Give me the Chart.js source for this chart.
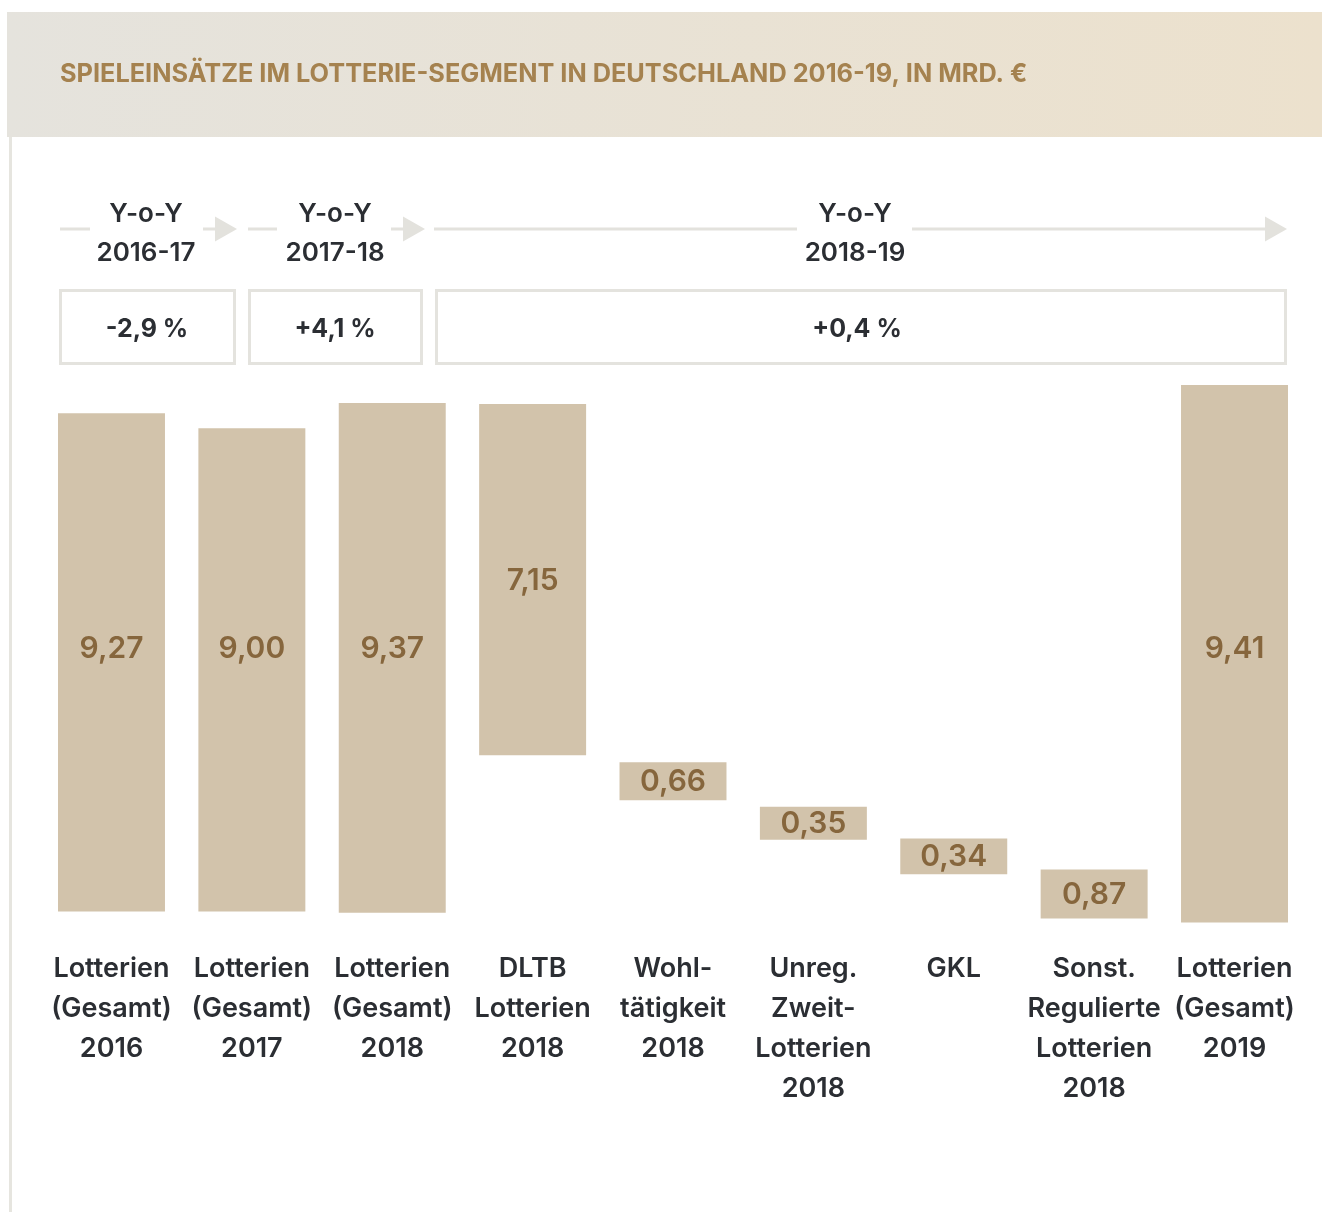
<!DOCTYPE html>
<html><head><meta charset="utf-8">
<script src="https://cdn.jsdelivr.net/npm/chart.js@4"></script>
<style>html,body{margin:0;padding:0;background:#fff;overflow:hidden}#wrap{position:relative;width:1322px;height:1212px}</style>
</head><body><div id="wrap"><canvas id="c" width="1322" height="1212"></canvas></div>
<script>
// ---- data ----
const categories = [
  ['Lotterien','(Gesamt)','2016'],
  ['Lotterien','(Gesamt)','2017'],
  ['Lotterien','(Gesamt)','2018'],
  ['DLTB','Lotterien','2018'],
  ['Wohl-','tätigkeit','2018'],
  ['Unreg.','Zweit-','Lotterien','2018'],
  ['GKL'],
  ['Sonst.','Regulierte','Lotterien','2018'],
  ['Lotterien','(Gesamt)','2019']
];
const values = [9.27, 9.00, 9.37, 7.15, 0.66, 0.35, 0.34, 0.87, 9.41];
// bar extents as drawn in the graphic (Mrd. €, estimated)
const barLow  = [0, 0, -0.02, 2.89, 2.06, 1.33, 0.69, -0.13, -0.20];
const barHigh = [9.22, 8.94, 9.41, 9.39, 2.76, 1.94, 1.35, 0.78, 9.74];
const yoyPeriods = ['2016-17', '2017-18', '2018-19'];
const yoyChanges = ['-2,9 %', '+4,1 %', '+0,4 %'];
const titleText = 'SPIELEINSÄTZE IM LOTTERIE-SEGMENT IN DEUTSCHLAND 2016-19, IN MRD. €';

// ---- styles ----
const FONT = 'Inter, "Open Sans", sans-serif';
const BAR = '#d2c3ab';
const VAL = '#86663d';
const DARK = '#2b2e33';
const LINE = '#e3e2dd';

const fmt = v => v.toFixed(2).replace('.', ',');

const decor = {
  id: 'decor',
  beforeDraw(chart) {
    const ctx = chart.ctx;
    ctx.save();
    ctx.fillStyle = '#fff';
    ctx.fillRect(0, 0, chart.width, chart.height);
    // header band
    const g = ctx.createLinearGradient(7, 0, 1322, 0);
    g.addColorStop(0, '#e5e3dd');
    g.addColorStop(1, '#ece1cd');
    ctx.fillStyle = g;
    ctx.fillRect(7, 12, 1315, 125);
    // left border
    ctx.fillStyle = '#e6e5df';
    ctx.fillRect(9, 137, 3, 1075);
    // title
    let fs = 23;
    ctx.font = `700 ${fs}px ${FONT}`;
    const w = ctx.measureText(titleText).width;
    fs = Math.min(26, fs * 968 / w);
    ctx.font = `700 ${fs}px ${FONT}`;
    ctx.fillStyle = '#a5824f';
    ctx.textBaseline = 'middle';
    ctx.textAlign = 'left';
    ctx.fillText(titleText, 60, 74);

    // Y-o-Y arrows
    const segs = [
      {a0: 60, a1: 90, c: 146, b0: 203, b1: 215, h: 237},
      {a0: 248, a1: 277, c: 335, b0: 391, b1: 403, h: 425},
      {a0: 434, a1: 797, c: 855, b0: 912, b1: 1265, h: 1287}
    ];
    ctx.fillStyle = LINE;
    segs.forEach((s, i) => {
      ctx.fillRect(s.a0, 227.5, s.a1 - s.a0, 3);
      ctx.fillRect(s.b0, 227.5, s.b1 - s.b0, 3);
      ctx.beginPath();
      ctx.moveTo(s.b1, 216.5);
      ctx.lineTo(s.h, 229);
      ctx.lineTo(s.b1, 241.5);
      ctx.closePath();
      ctx.fill();
    });
    ctx.fillStyle = DARK;
    ctx.textAlign = 'center';
    ctx.font = `600 26px ${FONT}`;
    segs.forEach((s, i) => {
      ctx.fillText('Y-o-Y', s.c, 214);
      ctx.fillText(yoyPeriods[i], s.c, 253);
    });
    // boxes
    const boxes = [[59, 289, 236, 365], [248, 289, 423, 365], [435, 289, 1287, 365]];
    ctx.strokeStyle = '#e4e3de';
    ctx.lineWidth = 3;
    boxes.forEach((b, i) => {
      ctx.strokeRect(b[0] + 1.5, b[1] + 1.5, b[2] - b[0] - 3, b[3] - b[1] - 3);
    });
    ctx.fillStyle = DARK;
    ctx.font = `700 25px ${FONT}`;
    const centers = [147, 335, 857];
    boxes.forEach((b, i) => ctx.fillText(yoyChanges[i], centers[i], 329));
    ctx.restore();
  },
  afterDatasetsDraw(chart) {
    const ctx = chart.ctx;
    const meta = chart.getDatasetMeta(0);
    const yS = chart.scales.y;
    ctx.save();
    ctx.fillStyle = VAL;
    ctx.font = `600 30px ${FONT}`;
    ctx.textAlign = 'center';
    ctx.textBaseline = 'middle';
    meta.data.forEach((el, i) => {
      const top = Math.min(el.y, el.base), bot = Math.max(el.y, el.base);
      let y = (top + bot) / 2;
      if (barHigh[i] - barLow[i] > 8) y = yS.getPixelForValue(4.87);
      ctx.fillText(fmt(values[i]), el.x, y + 1);
    });
    ctx.restore();
  }
};

new Chart(document.getElementById('c'), {
  type: 'bar',
  data: {
    labels: categories,
    datasets: [{
      data: barLow.map((l, i) => [l, barHigh[i]]),
      backgroundColor: BAR,
      borderWidth: 0,
      barPercentage: 0.762,
      categoryPercentage: 1
    }]
  },
  options: {
    responsive: false,
    animation: false,
    devicePixelRatio: 1,
    layout: { padding: { left: 41.3, right: 17.3, top: 381.8, bottom: 88 } },
    plugins: { legend: { display: false }, tooltip: { enabled: false }, title: { display: false } },
    scales: {
      y: { display: false, min: -0.4, max: 9.8 },
      x: {
        grid: { display: false, drawTicks: false },
        border: { display: false },
        ticks: {
          color: DARK,
          font: { family: FONT, size: 27, weight: '600', lineHeight: 40 / 27 },
          padding: 15.4,
          maxRotation: 0,
          minRotation: 0,
          autoSkip: false
        }
      }
    }
  },
  plugins: [decor]
});
</script></body></html>
